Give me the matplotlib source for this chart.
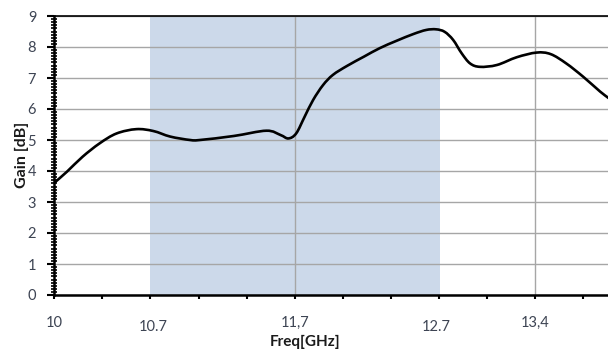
import numpy as np
import matplotlib
matplotlib.use("Agg")
import matplotlib.pyplot as plt
from matplotlib.path import Path
from matplotlib.patches import PathPatch
from matplotlib.ticker import MultipleLocator, FixedLocator
from matplotlib.transforms import blended_transform_factory

# Gain curve (GHz, dB)
freq = [10.0, 10.09, 10.2, 10.32, 10.44, 10.58, 10.70, 10.82, 10.96, 11.03,
        11.27, 11.50, 11.60, 11.655, 11.71, 11.77, 11.83, 11.90, 11.97, 12.07,
        12.19, 12.30, 12.42, 12.54, 12.63, 12.70, 12.76, 12.82, 12.88, 12.94,
        13.01, 13.13, 13.27, 13.41, 13.51, 13.62, 13.74, 13.86, 13.92, 14.0]
gain = [3.62, 3.98, 4.46, 4.89, 5.21, 5.35, 5.29, 5.11, 5.00, 5.00,
        5.13, 5.30, 5.16, 5.05, 5.21, 5.75, 6.29, 6.77, 7.10, 7.39,
        7.69, 7.96, 8.20, 8.42, 8.55, 8.57, 8.49, 8.23, 7.80, 7.47,
        7.36, 7.42, 7.67, 7.82, 7.77, 7.47, 7.04, 6.56, 6.35, 6.05]

band = (10.68, 12.73)

# freq labels placed by hand under the axis
label_pos = [10.0, 10.7, 11.7, 12.7, 13.4]
label_txt = ["10", "10.7", "11,7", "12.7", "13,4"]
label_drop = [0, 4, 0, 4, 0]


def smooth_path(xs, ys):
    # Catmull-Rom through the points, drawn as cubic Bezier segments
    p = np.column_stack([xs, ys])
    verts = [p[0]]
    codes = [Path.MOVETO]
    n = len(p)
    for i in range(n - 1):
        p0 = p[i - 1] if i > 0 else p[i]
        p3 = p[i + 2] if i + 2 < n else p[i + 1]
        c1 = p[i] + (p[i + 1] - p0) / 6
        c2 = p[i + 1] - (p3 - p[i]) / 6
        verts += [c1, c2, p[i + 1]]
        codes += [Path.CURVE4] * 3
    return Path(verts, codes)


plt.rcParams['font.family'] = ['Lato', 'DejaVu Sans']

fig = plt.figure(figsize=(6.08, 3.54), dpi=100)
ax = fig.add_axes([54.3 / 608, 59 / 354, 577 / 608, 279 / 354])

ax.axvspan(band[0], band[1], color="#ccd9ea", zorder=0, lw=0)
ax.add_patch(PathPatch(smooth_path(freq, gain), fill=False, ec="black",
                       lw=1.9, capstyle="round", joinstyle="round", zorder=3))

ax.set_xlim(10, 14.08)
ax.set_ylim(0, 9)

ax.yaxis.set_major_locator(MultipleLocator(1))
ax.yaxis.set_minor_locator(MultipleLocator(0.1))
ax.xaxis.set_major_locator(FixedLocator([10 + 0.34 * k for k in range(13)]))
ax.xaxis.set_major_formatter(plt.NullFormatter())

ax.grid(axis="y", which="major", color="#a6a6a6", lw=1.0, zorder=1)
for xv in (11.7, 13.4):
    ax.axvline(xv, color="#a6a6a6", lw=1.0, zorder=1)

for s in ("left", "bottom"):
    ax.spines[s].set_linewidth(1.8)
ax.spines["top"].set_linewidth(1.2)
ax.spines["right"].set_visible(False)

ax.tick_params(axis="y", which="major", direction="out", length=5, width=1.5,
               labelsize=10.5, labelcolor="#3d4453", pad=8)
ax.tick_params(axis="y", which="minor", direction="inout", length=4, width=1.2)
ax.tick_params(axis="x", which="major", direction="out", length=3, width=1.5)

trans = blended_transform_factory(ax.transData, fig.transFigure)
for xv, txt, dy in zip(label_pos, label_txt, label_drop):
    ax.text(xv, (354 - 323 - dy) / 354, txt, transform=trans, ha="center",
            va="center", fontsize=10.5, color="#3d4453")

fig.text(305 / 608, (354 - 342) / 354, "Freq[GHz]", ha="center", va="center",
         fontsize=11, fontweight="bold", color="#1a1a1a")
fig.text(22 / 608, (354 - 155) / 354, "Gain [dB]", ha="center", va="center",
         rotation=90, fontsize=11.5, fontweight="bold", color="#1a1a1a")

fig.savefig("out.png", dpi=100)
